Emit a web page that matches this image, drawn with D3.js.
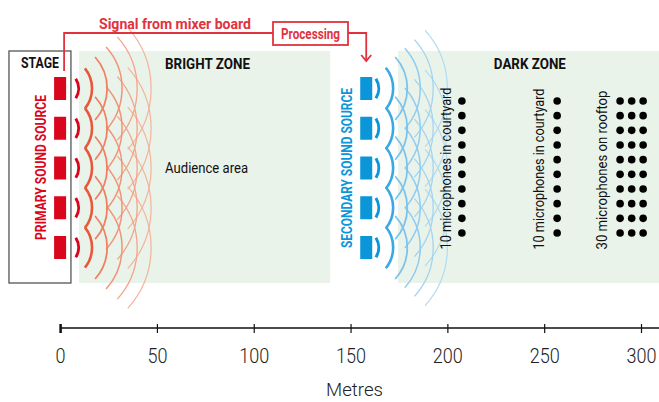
<!DOCTYPE html>
<html>
<head>
<meta charset="utf-8">
<script src="https://cdn.jsdelivr.net/npm/d3@7"></script>
<style>
  html, body { margin: 0; padding: 0; background: #ffffff; }
  svg { display: block; }
  text { font-family: "Roboto", "Noto Sans", sans-serif; }
</style>
</head>
<body>
<svg id="chart" width="659" height="402"></svg>
<script>
// ---------- data ----------
const tickValues = [0, 50, 100, 150, 200, 250, 300];
const axisTitle = "Metres";

// zones (metres)
const zoneNames = ["BRIGHT ZONE", "DARK ZONE"];
const zoneStart = [9.8, 174.5];
const zoneEnd = [139.5, 310];
const zoneLabelAt = [54.2, 224];

const stageName = "STAGE";
const stageStart = -26.4;
const stageEnd = 5.6;

// sound sources (metres) and their loudspeaker rows
const sourceNames = ["PRIMARY SOUND SOURCE", "SECONDARY SOUND SOURCE"];
const sourcePos = [0, 155];
const speakerRows = [0, 1, 2, 3, 4];
// wave radii (metres) of the wavefronts from each loudspeaker
const primaryWaves = [16.5, 24.3, 32.0, 39.8, 47.0];
const secondaryWaves = [17.0, 24.3, 31.0, 37.7, 45.0];

// microphones (metres)
const micColumns = [207.5, 256.7, 289.2, 295.2, 301.1];
const micRows = [0, 1, 2, 3, 4, 5, 6, 7, 8, 9];
const micLabels = ["10 microphones in courtyard", "10 microphones in courtyard", "30 microphones on rooftop"];
const micLabelAt = [201.7, 250.0, 282.5];

const audienceLabel = "Audience area";
const signalLabel = "Signal from mixer board";
const processLabel = "Processing";

// ---------- drawing ----------
const svg = d3.select("#chart");
const x = d3.scaleLinear().domain([0, 300]).range([60.1, 641]);
const rowY = d3.scaleLinear().domain([0, 4]).range([88.5, 247.5]);
const micY = d3.scaleLinear().domain([0, 9]).range([101, 233]);
const zoneTop = 51, zoneBottom = 283;
const px = m => x(m) - x(0);

const RED = "#d9061c";
const LINE_RED = "#e2323e";
const BLUE = "#0a96d8";

function fit(sel, w) {
  return sel.attr("textLength", w).attr("lengthAdjust", "spacingAndGlyphs");
}

// green zones
svg.append("g").selectAll("rect").data(zoneNames).join("rect")
  .attr("x", (d, i) => x(zoneStart[i]))
  .attr("y", zoneTop)
  .attr("width", (d, i) => x(zoneEnd[i]) - x(zoneStart[i]))
  .attr("height", zoneBottom - zoneTop)
  .attr("fill", "#eaf3ea");

// stage box
svg.append("rect")
  .attr("x", x(stageStart)).attr("y", zoneTop)
  .attr("width", x(stageEnd) - x(stageStart)).attr("height", zoneBottom - zoneTop)
  .attr("fill", "none").attr("stroke", "#555").attr("stroke-width", 1.3);

// waves
function arcPath(cx, cy, r, a) {
  const p = d3.path();
  p.moveTo(cx + r * Math.cos(-a), cy + r * Math.sin(-a));
  p.arc(cx, cy, r, -a, a);
  return p.toString();
}
const redWaveColors = ["#e8583a", "#ef8163", "#f19477", "#f3a489", "#f5b39a"];
const redWaveWidths = [2.6, 1.8, 1.5, 1.3, 1.2];
const blueWaveColors = ["#3aa8e3", "#7cc3ec", "#90ccef", "#a2d4f1", "#b0dbf3"];
const blueWaveWidths = [2.6, 1.8, 1.5, 1.3, 1.2];

function drawWaves(srcIdx, radii, colors, widths) {
  const g = svg.append("g").attr("fill", "none");
  const cx = x(sourcePos[srcIdx]);
  for (let k = radii.length - 1; k >= 0; k--) {
    const a = (k === 0 ? 39 : 42) * Math.PI / 180;
    g.selectAll(null).data(speakerRows).join("path")
      .attr("d", r => arcPath(cx, rowY(r), px(radii[k]), a))
      .attr("stroke", colors[k])
      .attr("stroke-width", widths[k]);
  }
  // small arc next to each speaker
  g.selectAll(null).data(speakerRows).join("path")
    .attr("d", r => arcPath(cx, rowY(r), px(9.55), 32 * Math.PI / 180))
    .attr("stroke", srcIdx === 0 ? RED : BLUE)
    .attr("stroke-width", 3);
}
drawWaves(0, primaryWaves, redWaveColors, redWaveWidths);
drawWaves(1, secondaryWaves, blueWaveColors, blueWaveWidths);

// speakers
svg.append("g").selectAll("rect").data(speakerRows).join("rect")
  .attr("x", x(sourcePos[0]) - 6).attr("y", r => rowY(r) - 11.5)
  .attr("width", 12).attr("height", 23).attr("fill", RED);
svg.append("g").selectAll("rect").data(speakerRows).join("rect")
  .attr("x", x(sourcePos[1])).attr("y", r => rowY(r) - 11.5)
  .attr("width", 12).attr("height", 23).attr("fill", BLUE);

// source labels (vertical)
fit(svg.append("text")
  .attr("transform", `translate(${x(sourcePos[0]) - 14},${167.5}) rotate(-90)`)
  .attr("text-anchor", "middle").attr("fill", RED)
  .attr("font-size", 15).attr("font-weight", "bold")
  .text(sourceNames[0]), 145);
fit(svg.append("text")
  .attr("transform", `translate(${x(sourcePos[1]) - 8},${168}) rotate(-90)`)
  .attr("text-anchor", "middle").attr("fill", BLUE)
  .attr("font-size", 15).attr("font-weight", "bold")
  .text(sourceNames[1]), 160);

// zone labels
fit(svg.append("text").attr("x", x(stageStart) + 12).attr("y", 68)
  .attr("font-size", 15).attr("font-weight", "bold").attr("fill", "#111")
  .text(stageName), 38);
svg.append("g").selectAll("text").data(zoneNames).join("text")
  .attr("x", (d, i) => x(zoneLabelAt[i])).attr("y", 69)
  .attr("font-size", 15).attr("font-weight", "bold").attr("fill", "#111")
  .attr("textLength", (d, i) => [85, 72][i]).attr("lengthAdjust", "spacingAndGlyphs")
  .text(d => d);
fit(svg.append("text").attr("x", x(zoneLabelAt[0])).attr("y", 173)
  .attr("font-size", 15).attr("fill", "#111")
  .text(audienceLabel), 83);

// microphones
micColumns.forEach(c => {
  svg.append("g").selectAll("circle").data(micRows).join("circle")
    .attr("cx", x(c)).attr("cy", r => micY(r)).attr("r", 3.8).attr("fill", "#000");
});
svg.append("g").selectAll("text").data(micLabels).join("text")
  .attr("transform", (d, i) => `translate(${x(micLabelAt[i])},249.5) rotate(-90)`)
  .attr("font-size", 15).attr("fill", "#111")
  .attr("textLength", (d, i) => [162, 161, 159][i]).attr("lengthAdjust", "spacingAndGlyphs")
  .text(d => d);

// signal path
const sigX = x(sourcePos[0]) + 4;
const procX0 = 273, procX1 = 348, procY0 = 22, procY1 = 45, lineY = 33;
const arrowX = x(sourcePos[1]) + 6;
svg.append("path")
  .attr("d", `M${sigX},71 V${lineY} H${procX0} M${procX1},${lineY} H${arrowX} V61`)
  .attr("fill", "none").attr("stroke", LINE_RED).attr("stroke-width", 1.8);
svg.append("path")
  .attr("d", `M${arrowX - 5},${55} L${arrowX},${61} L${arrowX + 5},${55}`)
  .attr("fill", "none").attr("stroke", LINE_RED).attr("stroke-width", 1.8);
svg.append("rect")
  .attr("x", procX0).attr("y", procY0).attr("width", procX1 - procX0).attr("height", procY1 - procY0)
  .attr("fill", "#fff").attr("stroke", LINE_RED).attr("stroke-width", 1.8);
fit(svg.append("text").attr("x", (procX0 + procX1) / 2).attr("y", 38.5)
  .attr("text-anchor", "middle").attr("fill", LINE_RED)
  .attr("font-size", 14).attr("font-weight", "bold")
  .text(processLabel), 59);
fit(svg.append("text").attr("x", 175).attr("y", 28.5)
  .attr("text-anchor", "middle").attr("fill", LINE_RED)
  .attr("font-size", 15).attr("font-weight", "bold")
  .text(signalLabel), 152);

// axis
const axisY = 328;
const axis = svg.append("g").attr("transform", `translate(0,${axisY})`)
  .call(d3.axisBottom(x).tickValues(tickValues).tickSize(5));
axis.select(".domain").remove();
axis.selectAll(".tick line").attr("y1", -4).attr("y2", 5).attr("stroke", "#111")
  .attr("stroke-width", (d) => d === 0 ? 2.5 : 1.2);
axis.selectAll(".tick text")
  .attr("y", 35).attr("dy", null)
  .attr("font-size", 20).attr("font-weight", 300).attr("fill", "#222")
  .attr("font-family", "Roboto, sans-serif")
  .attr("textLength", d => String(d).length * 10).attr("lengthAdjust", "spacingAndGlyphs");
axis.insert("line", ":first-child")
  .attr("x1", x(0)).attr("x2", 659).attr("y1", 0).attr("y2", 0)
  .attr("stroke", "#111").attr("stroke-width", 1.6);
fit(svg.append("text").attr("x", 354.5).attr("y", 396)
  .attr("text-anchor", "middle").attr("font-size", 19).attr("font-weight", 300).attr("fill", "#222")
  .text(axisTitle), 57);
</script>
</body>
</html>
